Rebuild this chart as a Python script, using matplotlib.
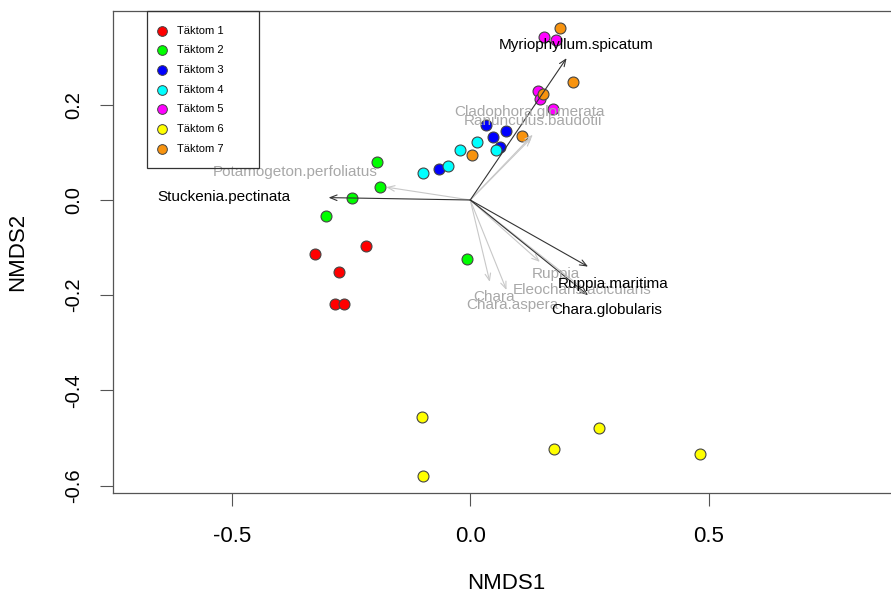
import matplotlib
matplotlib.use("Agg")
import matplotlib.pyplot as plt
from matplotlib.patches import Rectangle
from matplotlib.lines import Line2D

plt.rcParams['font.family'] = ['Liberation Sans', 'DejaVu Sans']

# site scores per group (NMDS1, NMDS2)
groups = ['Täktom 1', 'Täktom 2', 'Täktom 3', 'Täktom 4', 'Täktom 5', 'Täktom 6', 'Täktom 7']
colors = ['#FF0000', '#00FF00', '#0000FF', '#00FFFF', '#FF00FF', '#FFFF00', '#F7930F']
x1 = [-0.325, -0.218, -0.276, -0.284, -0.265]
y1 = [-0.114, -0.097, -0.152, -0.219, -0.219]
x2 = [-0.195, -0.190, -0.248, -0.302, -0.006]
y2 = [0.080, 0.027, 0.005, -0.033, -0.123]
x3 = [-0.065, 0.032, 0.047, 0.075, 0.062]
y3 = [0.065, 0.158, 0.132, 0.145, 0.112]
x4 = [-0.100, -0.047, -0.022, 0.014, 0.054]
y4 = [0.056, 0.072, 0.104, 0.122, 0.104]
x5 = [0.155, 0.179, 0.142, 0.147, 0.174]
y5 = [0.343, 0.336, 0.230, 0.212, 0.191]
x6 = [-0.101, -0.100, 0.176, 0.269, 0.481]
y6 = [-0.455, -0.580, -0.524, -0.479, -0.533]
x7 = [0.003, 0.109, 0.216, 0.188, 0.152]
y7 = [0.094, 0.135, 0.247, 0.361, 0.223]
xs = [x1, x2, x3, x4, x5, x6, x7]
ys = [y1, y2, y3, y4, y5, y6, y7]

# species vectors (envfit), significant ones drawn dark
species = ['Myriophyllum.spicatum', 'Stuckenia.pectinata', 'Ruppia.maritima', 'Chara.globularis',
           'Cladophora.glomerata', 'Ranunculus.baudotii', 'Potamogeton.perfoliatus', 'Ruppia',
           'Eleocharis.acicularis', 'Chara', 'Chara.aspera']
arr_x = [0.202, -0.297, 0.247, 0.247, 0.128, 0.131, -0.176, 0.146, 0.236, 0.041, 0.076]
arr_y = [0.298, 0.005, -0.140, -0.200, 0.130, 0.137, 0.027, -0.130, -0.186, -0.172, -0.189]
signif = [True, True, True, True, False, False, False, False, False, False, False]
lab_x = [0.221, -0.517, 0.299, 0.286, 0.125, 0.131, -0.368, 0.179, 0.234, 0.049, 0.089]
lab_y = [0.326, 0.006, -0.176, -0.231, 0.185, 0.166, 0.059, -0.155, -0.189, -0.204, -0.221]

fig = plt.figure(figsize=(8.91, 6.0), dpi=100)
ax = fig.add_axes([113/891, 107/600, 787/891, 482/600])
ax.set_xlim(-0.749, 0.901)
ax.set_ylim(-0.6155, 0.397)

for i in range(len(groups)):
    ax.scatter(xs[i], ys[i], s=62, c=colors[i], edgecolors='#444444', linewidths=0.8, zorder=3)

# grey (non significant) first, then dark on top
order = [i for i in range(len(species)) if not signif[i]] + [i for i in range(len(species)) if signif[i]]
for i in order:
    col = '#333333' if signif[i] else '#C8C8C8'
    tcol = 'black' if signif[i] else '#A8A8A8'
    ax.annotate('', xy=(arr_x[i], arr_y[i]), xytext=(0, 0),
                arrowprops=dict(arrowstyle='->,head_length=0.5,head_width=0.2', color=col, lw=0.8,
                                shrinkA=0, shrinkB=0), zorder=4)
    ax.text(lab_x[i], lab_y[i], species[i], color=tcol, fontsize=11, ha='center', va='center', zorder=5)

ax.set_xticks([-0.5, 0.0, 0.5])
ax.set_xticklabels(['-0.5', '0.0', '0.5'])
ax.set_yticks([-0.6, -0.4, -0.2, 0.0, 0.2])
ax.set_yticklabels(['-0.6', '-0.4', '-0.2', '0.0', '0.2'], rotation=90, va='center')
ax.tick_params(axis='both', length=9.4, width=0.8, color='#555555')
ax.tick_params(axis='x', pad=14, labelsize=16)
ax.tick_params(axis='y', pad=12, labelsize=14.5)
for sp in ax.spines.values():
    sp.set_color('#555555')
    sp.set_linewidth(0.9)
ax.set_xlabel('NMDS1', fontsize=16, labelpad=19)
ax.set_ylabel('NMDS2', fontsize=16, labelpad=26)

# legend box in the top left corner
trans = fig.transFigure
fig.patches.append(Rectangle((147/891, 1 - 168/600), (259 - 147)/891, (168 - 11)/600,
                             transform=trans, fill=False, edgecolor='#333333', lw=0.9))
for i in range(len(groups)):
    yy = 1 - (30.5 + 19.7*i)/600
    fig.lines.append(Line2D([162/891], [yy], marker='o', markersize=7, color=colors[i],
                            markeredgecolor='#444444', markeredgewidth=0.7, transform=trans))
    fig.text(177/891, yy, groups[i], fontsize=8, va='center', ha='left')

fig.savefig('out.png', dpi=100)
